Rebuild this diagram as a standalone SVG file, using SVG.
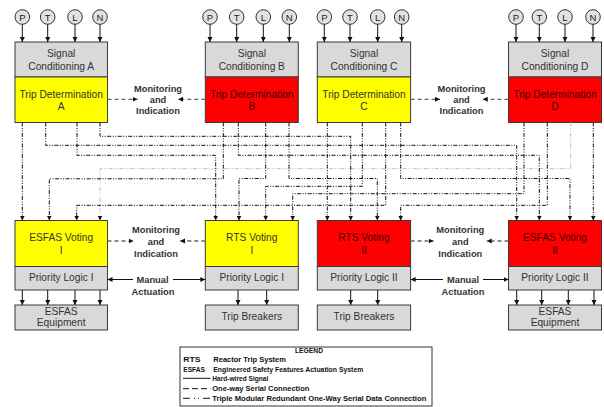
<svg xmlns="http://www.w3.org/2000/svg" width="604" height="407" viewBox="0 0 604 407">
<style>
.box{stroke:#3a3a3a;stroke-width:1}
.grey{fill:#d9d9d9}
.yel{fill:#ffff00}
.red{fill:#ff0000}
.t{font-family:"Liberation Sans",Arial,sans-serif;font-size:10.2px;fill:#333;text-anchor:middle}
.tr{fill:#400000}
.b{font-family:"Liberation Sans",Arial,sans-serif;font-size:9.3px;font-weight:bold;fill:#333;text-anchor:middle}
.sen circle{fill:#e2e2e2;stroke:#333;stroke-width:1}
.sen text{font-family:"Liberation Sans",Arial,sans-serif;font-size:9.5px;fill:#222;text-anchor:middle}
.hw{fill:none;stroke:#111;stroke-width:1;marker-end:url(#ah)}
.mi{fill:none;stroke:#666;stroke-width:1.3;stroke-dasharray:4 3;marker-end:url(#ah)}
.tm{fill:none;stroke:#111;stroke-width:1;stroke-dasharray:4 1.5 1 1.5 1 1.5;marker-end:url(#ah)}
.tmg{stroke:#bdbdbd}
.lg{font-family:"Liberation Sans",Arial,sans-serif;font-size:7.2px;font-weight:bold;fill:#111}
</style>
<defs>
<marker id="ah" markerUnits="userSpaceOnUse" markerWidth="6" markerHeight="6" refX="5" refY="2.5" orient="auto">
<path d="M0,0 L5,2.5 L0,5 z" fill="#111"/>
</marker>
</defs>
<rect width="604" height="407" fill="#fff"/>

<!-- sensors -->
<g id="sensors-A" class="sen">
<g id="sA-P"><circle cx="22.3" cy="17" r="7.3"/><text x="22.3" y="20.5">P</text></g>
<g id="sA-T"><circle cx="47.7" cy="17" r="7.3"/><text x="47.7" y="20.5">T</text></g>
<g id="sA-L"><circle cx="75" cy="17" r="7.3"/><text x="75" y="20.5">L</text></g>
<g id="sA-N"><circle cx="100" cy="17" r="7.3"/><text x="100" y="20.5">N</text></g>
</g>
<g id="sensors-B" class="sen">
<g id="sB-P"><circle cx="210" cy="17" r="7.3"/><text x="210" y="20.5">P</text></g>
<g id="sB-T"><circle cx="236.7" cy="17" r="7.3"/><text x="236.7" y="20.5">T</text></g>
<g id="sB-L"><circle cx="263.3" cy="17" r="7.3"/><text x="263.3" y="20.5">L</text></g>
<g id="sB-N"><circle cx="289.3" cy="17" r="7.3"/><text x="289.3" y="20.5">N</text></g>
</g>
<g id="sensors-C" class="sen">
<g id="sC-P"><circle cx="324.3" cy="17" r="7.3"/><text x="324.3" y="20.5">P</text></g>
<g id="sC-T"><circle cx="350" cy="17" r="7.3"/><text x="350" y="20.5">T</text></g>
<g id="sC-L"><circle cx="377.7" cy="17" r="7.3"/><text x="377.7" y="20.5">L</text></g>
<g id="sC-N"><circle cx="401.7" cy="17" r="7.3"/><text x="401.7" y="20.5">N</text></g>
</g>
<g id="sensors-D" class="sen">
<g id="sD-P"><circle cx="516" cy="17" r="7.3"/><text x="516" y="20.5">P</text></g>
<g id="sD-T"><circle cx="539.3" cy="17" r="7.3"/><text x="539.3" y="20.5">T</text></g>
<g id="sD-L"><circle cx="565" cy="17" r="7.3"/><text x="565" y="20.5">L</text></g>
<g id="sD-N"><circle cx="593" cy="17" r="7.3"/><text x="593" y="20.5">N</text></g>
</g>

<!-- top row -->
<g id="sc-A"><rect class="box grey" x="15" y="42" width="92.5" height="35"/><text class="t" x="61.2" y="57">Signal</text><text class="t" x="61.2" y="69.5">Conditioning A</text></g>
<g id="td-A"><rect class="box yel" x="15" y="77" width="92.5" height="45.5"/><text class="t" x="61.2" y="97.7">Trip Determination</text><text class="t" x="61.2" y="110.3">A</text></g>
<g id="sc-B"><rect class="box grey" x="205.3" y="42" width="93" height="35"/><text class="t" x="251.8" y="57">Signal</text><text class="t" x="251.8" y="69.5">Conditioning B</text></g>
<g id="td-B"><rect class="box red" x="205.3" y="77" width="93" height="45.5"/><text class="t tr" x="251.8" y="97.7">Trip Determination</text><text class="t tr" x="251.8" y="110.3">B</text></g>
<g id="sc-C"><rect class="box grey" x="317.3" y="42" width="93.3" height="35"/><text class="t" x="364" y="57">Signal</text><text class="t" x="364" y="69.5">Conditioning C</text></g>
<g id="td-C"><rect class="box yel" x="317.3" y="77" width="93.3" height="45.5"/><text class="t" x="364" y="97.7">Trip Determination</text><text class="t" x="364" y="110.3">C</text></g>
<g id="sc-D"><rect class="box grey" x="508.5" y="42" width="93" height="35"/><text class="t" x="555" y="57">Signal</text><text class="t" x="555" y="69.5">Conditioning D</text></g>
<g id="td-D"><rect class="box red" x="508.5" y="77" width="93" height="45.5"/><text class="t tr" x="555" y="97.7">Trip Determination</text><text class="t tr" x="555" y="110.3">D</text></g>

<g id="mon-AB"><text class="b" x="158" y="91.6">Monitoring</text><text class="b" x="158" y="102.8">and</text><text class="b" x="158" y="114.2">Indication</text></g>
<g id="mon-CD"><text class="b" x="461.5" y="91.6">Monitoring</text><text class="b" x="461.5" y="102.8">and</text><text class="b" x="461.5" y="114.2">Indication</text></g>

<!-- bottom row -->
<g id="vote-ESFAS-I"><rect class="box yel" x="15" y="220.5" width="92.5" height="46"/><text class="t" x="61.2" y="241.3">ESFAS Voting</text><text class="t" x="61.2" y="253.7">I</text></g>
<g id="pl-1"><rect class="box grey" x="15" y="266.5" width="92.5" height="23.5"/><text class="t" x="61.2" y="281.3">Priority Logic I</text></g>
<g id="eq-1"><rect class="box grey" x="15" y="305" width="92.5" height="25"/><text class="t" x="61.2" y="314.7">ESFAS</text><text class="t" x="61.2" y="326.3">Equipment</text></g>

<g id="vote-RTS-I"><rect class="box yel" x="205.3" y="220.5" width="93" height="46"/><text class="t" x="251.8" y="241.3">RTS Voting</text><text class="t" x="251.8" y="253.7">I</text></g>
<g id="pl-2"><rect class="box grey" x="205.3" y="266.5" width="93" height="23.5"/><text class="t" x="251.8" y="281.3">Priority Logic I</text></g>
<g id="tb-1"><rect class="box grey" x="205.3" y="305" width="93" height="25"/><text class="t" x="251.8" y="320.3">Trip Breakers</text></g>

<g id="vote-RTS-II"><rect class="box red" x="317.3" y="220.5" width="93.3" height="46"/><text class="t tr" x="364" y="241.3">RTS Voting</text><text class="t tr" x="364" y="253.7">II</text></g>
<g id="pl-3"><rect class="box grey" x="317.3" y="266.5" width="93.3" height="23.5"/><text class="t" x="364" y="281.3">Priority Logic II</text></g>
<g id="tb-2"><rect class="box grey" x="317.3" y="305" width="93.3" height="25"/><text class="t" x="364" y="320.3">Trip Breakers</text></g>

<g id="vote-ESFAS-II"><rect class="box red" x="508.5" y="220.5" width="93" height="46"/><text class="t tr" x="555" y="241.3">ESFAS Voting</text><text class="t tr" x="555" y="253.7">II</text></g>
<g id="pl-4"><rect class="box grey" x="508.5" y="266.5" width="93" height="23.5"/><text class="t" x="555" y="281.3">Priority Logic II</text></g>
<g id="eq-2"><rect class="box grey" x="508.5" y="305" width="93" height="25"/><text class="t" x="555" y="314.7">ESFAS</text><text class="t" x="555" y="326.3">Equipment</text></g>

<g id="mon-1"><text class="b" x="156" y="233.3">Monitoring</text><text class="b" x="156" y="244.7">and</text><text class="b" x="156" y="256.8">Indication</text></g>
<g id="mon-2"><text class="b" x="460.3" y="233.3">Monitoring</text><text class="b" x="460.3" y="244.7">and</text><text class="b" x="460.3" y="256.8">Indication</text></g>
<g id="man-1"><text class="b" x="152.5" y="282.5">Manual</text><text class="b" x="153" y="295">Actuation</text></g>
<g id="man-2"><text class="b" x="463" y="282.5">Manual</text><text class="b" x="463" y="295">Actuation</text></g>

<!-- connectors -->
<g id="connectors">
<!-- sensor inputs -->
<path class="hw" d="M22.3,24.3V42"/><path class="hw" d="M47.7,24.3V42"/><path class="hw" d="M75,24.3V42"/><path class="hw" d="M100,24.3V42"/>
<path class="hw" d="M210,24.3V42"/><path class="hw" d="M236.7,24.3V42"/><path class="hw" d="M263.3,24.3V42"/><path class="hw" d="M289.3,24.3V42"/>
<path class="hw" d="M324.3,24.3V42"/><path class="hw" d="M350,24.3V42"/><path class="hw" d="M377.7,24.3V42"/><path class="hw" d="M401.7,24.3V42"/>
<path class="hw" d="M516,24.3V42"/><path class="hw" d="M539.3,24.3V42"/><path class="hw" d="M565,24.3V42"/><path class="hw" d="M593,24.3V42"/>

<!-- monitoring (top) -->
<path class="mi" d="M107.5,99.3H137.5"/>
<path class="mi" d="M205.3,99.3H178"/>
<path class="mi" d="M410.6,99.3H440"/>
<path class="mi" d="M508.5,99.3H482.7"/>
<!-- monitoring (bottom) -->
<path class="mi" d="M107.5,241H133.5"/>
<path class="mi" d="M205.3,241H180"/>
<path class="mi" d="M410.6,241H433.5"/>
<path class="mi" d="M508.5,241H486.7"/>

<!-- manual actuation -->
<path class="hw" d="M133,279.5H107.5"/>
<path class="hw" d="M173,279.5H205.3"/>
<path class="hw" d="M443,279.5H410.6"/>
<path class="hw" d="M483,279.5H508.5"/>

<!-- priority logic outputs -->
<path class="hw" d="M22.3,290V305"/><path class="hw" d="M47.7,290V305"/><path class="hw" d="M75,290V305"/><path class="hw" d="M100,290V305"/>
<path class="hw" d="M238,290V305"/><path class="hw" d="M266.7,290V305"/>
<path class="hw" d="M350.7,290V305"/><path class="hw" d="M377.7,290V305"/>
<path class="hw" d="M516.7,290V305"/><path class="hw" d="M541.7,290V305"/><path class="hw" d="M568.3,290V305"/><path class="hw" d="M594,290V305"/>

<!-- TMR serial data connections -->
<path class="tm tmg" d="M570.7,122.5V168.7H100V220.5"/>
<path class="tm" d="M22.3,122.5V220.5"/>
<path class="tm" d="M45.7,122.5V145.3H516.7V220.5"/>
<path class="tm" d="M77,122.5V155.3H215.7V220.5"/>
<path class="tm" d="M100,122.5V136.3H350.7V220.5"/>
<path class="tm" d="M223.3,122.5V178.8H49.3V220.5"/>
<path class="tm" d="M238.3,122.5V155.3H539.3V220.5"/>
<path class="tm" d="M265.7,122.5V178.5H239V220.5"/>
<path class="tm" d="M289,122.5V178.5H377.3V220.5"/>
<path class="tm" d="M327.3,122.5V220.5"/>
<path class="tm" d="M362.3,122.5V186.3H265.7V220.5"/>
<path class="tm" d="M385.7,122.5V205.3H76.7V220.5"/>
<path class="tm" d="M400.7,122.5V178.5H570V220.5"/>
<path class="tm" d="M524,122.5V193.7H292.7V220.5"/>
<path class="tm" d="M547.3,122.5V205.3H400.7V220.5"/>
<path class="tm" d="M593.3,122.5V220.5"/>
</g>

<!-- legend -->
<g id="legend">
<rect x="180" y="347" width="252" height="59" fill="#fff" stroke="#333" stroke-width="1"/>
<text class="lg" x="295" y="352.6" textLength="28" lengthAdjust="spacingAndGlyphs">LEGEND</text>
<text class="lg" x="183.3" y="362" textLength="17.3" lengthAdjust="spacingAndGlyphs">RTS</text>
<text class="lg" x="213.3" y="362" textLength="72.7" lengthAdjust="spacingAndGlyphs">Reactor Trip System</text>
<text class="lg" x="183.3" y="372" textLength="21.7" lengthAdjust="spacingAndGlyphs">ESFAS</text>
<text class="lg" x="213.3" y="372" textLength="150" lengthAdjust="spacingAndGlyphs">Engineered Safety Features Actuation System</text>
<line x1="183" y1="378.3" x2="210.5" y2="378.3" stroke="#111" stroke-width="1"/>
<text class="lg" x="212.3" y="380.8" textLength="56" lengthAdjust="spacingAndGlyphs">Hard-wired Signal</text>
<line x1="183" y1="388.7" x2="210.5" y2="388.7" stroke="#111" stroke-width="1" stroke-dasharray="6 3"/>
<text class="lg" x="212.3" y="391.2" textLength="97" lengthAdjust="spacingAndGlyphs">One-way Serial Connection</text>
<line x1="183" y1="398.3" x2="210.5" y2="398.3" stroke="#111" stroke-width="1" stroke-dasharray="7 4 1 3 1 4"/>
<text class="lg" x="212.3" y="400.8" textLength="214" lengthAdjust="spacingAndGlyphs">Triple Modular Redundant One-Way Serial Data Connection</text>
</g>
</svg>
